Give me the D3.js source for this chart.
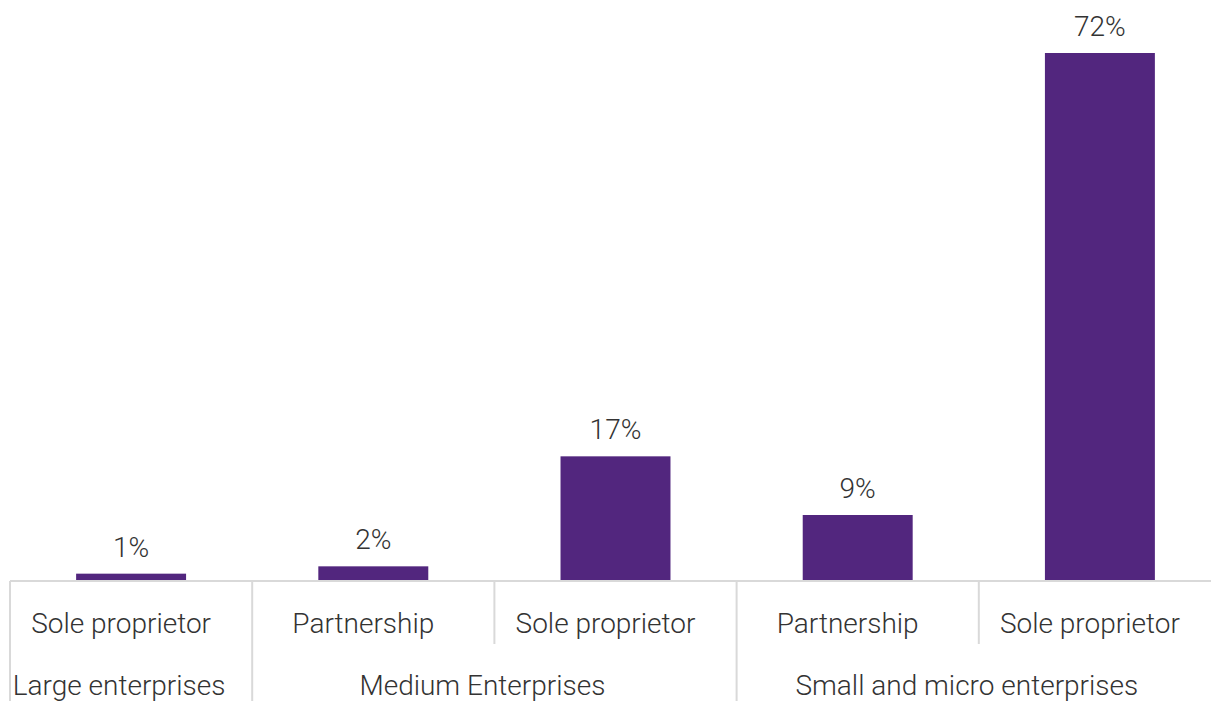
<!DOCTYPE html>
<html>
<head>
<meta charset="utf-8">
<script src="https://cdn.jsdelivr.net/npm/d3@7"></script>
<style>
  html, body { margin: 0; padding: 0; background: #ffffff; }
  svg { display: block; }
  text { font-family: Roboto, "Noto Sans", sans-serif; font-weight: 300; fill: #333333; }
</style>
</head>
<body>
<svg id="chart" width="1211" height="701"></svg>
<script>
// Share of enterprises by size and legal form
const subCategories = ["Sole proprietor", "Partnership", "Sole proprietor", "Partnership", "Sole proprietor"];
const groups = ["Large enterprises", "Medium Enterprises", "Medium Enterprises", "Small and micro enterprises", "Small and micro enterprises"];
const values = [1, 2, 17, 9, 72];
const valueLabels = ["1%", "2%", "17%", "9%", "72%"];

const width = 1211, height = 701;
const plotLeft = 10, plotRight = 1221;   // category band extends slightly past the right edge
const baseline = 581, plotTop = 53;
const row1Bottom = 644;
const fontSize = "28px";

const svg = d3.select("#chart");
const idx = d3.range(values.length);

const x = d3.scaleBand()
  .domain(idx)
  .range([plotLeft, plotRight])
  .paddingInner(0.546)
  .paddingOuter(0.273);

const y = d3.scaleLinear()
  .domain([0, d3.max(values)])
  .range([baseline, plotTop]);

const step = x.step();
const bandStart = i => plotLeft + i * step;

// bars
svg.append("g")
  .selectAll("rect")
  .data(idx)
  .join("rect")
  .attr("x", i => x(i))
  .attr("y", i => y(values[i]))
  .attr("width", x.bandwidth())
  .attr("height", i => y(0) - y(values[i]))
  .attr("fill", "#52267e");

// value labels
svg.append("g")
  .selectAll("text")
  .data(idx)
  .join("text")
  .attr("x", i => x(i) + x.bandwidth() / 2)
  .attr("y", i => y(values[i]) - 17)
  .attr("text-anchor", "middle")
  .style("font-size", fontSize)
  .text(i => valueLabels[i]);

// category axis: baseline and separators
const axis = svg.append("g").attr("stroke", "#d9d9d9").attr("stroke-width", 2);
axis.append("line")
  .attr("x1", plotLeft).attr("x2", width)
  .attr("y1", baseline).attr("y2", baseline);

// group extents built from the category list
const groupSpans = [];
idx.forEach(i => {
  const last = groupSpans[groupSpans.length - 1];
  if (last && last.name === groups[i]) last.end = i;
  else groupSpans.push({ name: groups[i], start: i, end: i });
});

// separators: full height at group boundaries, short within a group
idx.forEach(i => {
  const isGroupEdge = i === 0 || groups[i] !== groups[i - 1];
  axis.append("line")
    .attr("x1", bandStart(i)).attr("x2", bandStart(i))
    .attr("y1", baseline)
    .attr("y2", isGroupEdge ? height : row1Bottom);
});

// sub-category labels
svg.append("g")
  .selectAll("text")
  .data(idx)
  .join("text")
  .attr("x", i => x(i) + x.bandwidth() / 2 - 10)
  .attr("y", 633)
  .attr("text-anchor", "middle")
  .style("font-size", fontSize)
  .text(i => subCategories[i]);

// group labels
svg.append("g")
  .selectAll("text")
  .data(groupSpans)
  .join("text")
  .attr("x", g => (bandStart(g.start) + bandStart(g.end + 1)) / 2 - 12)
  .attr("y", 695)
  .attr("text-anchor", "middle")
  .style("font-size", fontSize)
  .text(g => g.name);
</script>
</body>
</html>
